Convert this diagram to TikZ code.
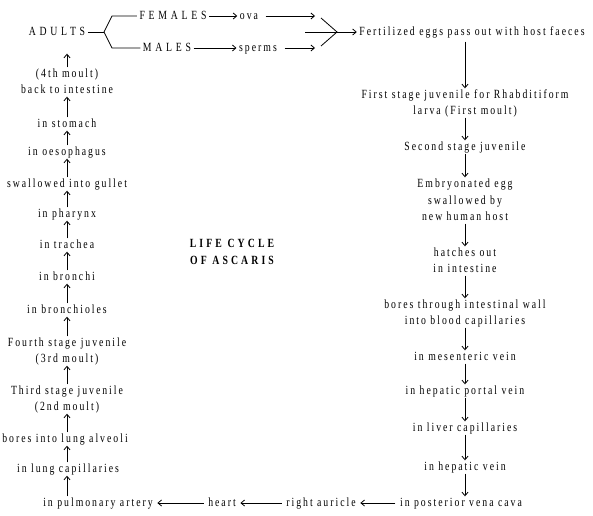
\documentclass[tikz,border=0pt]{standalone}
\usepackage{fontspec}
\setmainfont{Liberation Serif}[FakeStretch=0.78,LetterSpace=16]
\usetikzlibrary{arrows.meta}
\begin{document}
\begin{tikzpicture}[x=1pt,y=-1pt,
  lbl/.style={anchor=base, inner xsep=2.5pt, inner ysep=1pt, text height=8.5pt, text depth=2.5pt, font=\fontsize{12.5}{15}\selectfont},
  caps/.style={lbl, font=\fontsize{12.5}{15}\selectfont\addfontfeature{LetterSpace=30}},
  ttl/.style={lbl, font=\fontsize{12.5}{15}\selectfont\bfseries\addfontfeature{LetterSpace=25}},
  arr/.style={-{Straight Barb[length=3.5pt,width=6pt]}, line width=0.8pt},
  ln/.style={line width=0.8pt}]
\useasboundingbox (0,0) rectangle (593,515);
\coordinate (colL) at (67,0);
\coordinate (colR) at (465,0);
% top row
\node[caps] (adults) at (57,35) {ADULTS};
\node[caps] (females) at (173,19) {FEMALES};
\node[lbl] (ova) at (249,19) {ova};
\node[caps] (males) at (167,51) {MALES};
\node[lbl] (sperms) at (258,51) {sperms};
\node[lbl] (fert) at (472,35) {Fertilized eggs pass out with host faeces};
\coordinate (fork) at (104,32);
\coordinate (fu) at (112,16);
\coordinate (fl) at (112,48);
\coordinate (tu) at (315,16);
\coordinate (tl) at (315,48);
\coordinate (vu) at (321,18);
\coordinate (vm) at (337,32);
\coordinate (vl) at (321,46);
\coordinate (vs) at (305,32);
% left column
\node[lbl] (l1) at (67,77) {(4th moult)};
\node[lbl] (l2) at (67,93) {back to intestine};
\node[lbl] (l3) at (67,127) {in stomach};
\node[lbl] (l4) at (67,155) {in oesophagus};
\node[lbl] (l5) at (67,187) {swallowed into gullet};
\node[lbl] (l6) at (67,217) {in pharynx};
\node[lbl] (l7) at (67,248) {in trachea};
\node[lbl] (l8) at (67,280) {in bronchi};
\node[lbl] (l9) at (67,313) {in bronchioles};
\node[lbl] (l10a) at (67,346) {Fourth stage juvenile};
\node[lbl] (l10b) at (67,362) {(3rd moult)};
\node[lbl] (l11a) at (67,394) {Third stage juvenile};
\node[lbl] (l11b) at (67,410) {(2nd moult)};
\node[lbl] (l12) at (65,442) {bores into lung alveoli};
\node[lbl] (l13) at (68,472) {in lung capillaries};
\node[lbl] (l14) at (98,506) {in pulmonary artery};
% bottom row
\node[lbl] (heart) at (222,506) {heart};
\node[lbl] (ra) at (321,506) {right auricle};
\node[lbl] (pvc) at (461,506) {in posterior vena cava};
% right column
\node[lbl] (r1a) at (465,98) {First stage juvenile for Rhabditiform};
\node[lbl] (r1b) at (465,114) {larva (First moult)};
\node[lbl] (r2) at (465,150) {Second stage juvenile};
\node[lbl] (r3a) at (465,187) {Embryonated egg};
\node[lbl] (r3b) at (465,204) {swallowed by};
\node[lbl] (r3c) at (465,220) {new human host};
\node[lbl] (r4a) at (465,256) {hatches out};
\node[lbl] (r4b) at (465,272) {in intestine};
\node[lbl] (r5a) at (465,308) {bores through intestinal wall};
\node[lbl] (r5b) at (465,324) {into blood capillaries};
\node[lbl] (r6) at (465,360) {in mesenteric vein};
\node[lbl] (r7) at (465,394) {in hepatic portal vein};
\node[lbl] (r8) at (465,431) {in liver capillaries};
\node[lbl] (r9) at (465,470) {in hepatic vein};
% title
\node[ttl] (t1) at (232,247) {LIFE CYCLE};
\node[ttl] (t2) at (232,264) {OF ASCARIS};
% top connectors
\draw[ln] (adults.east) -- (fork);
\draw[ln] (fork) -- (fu) -- (fu -| females.west);
\draw[ln] (fork) -- (fl) -- (fl -| males.west);
\draw[arr] (females.east) -- (ova.west);
\draw[arr] (males.east) -- (sperms.west);
\draw[arr, shorten <=5pt] (ova.east) -- (ova.east -| tu);
\draw[arr, shorten <=5pt] (sperms.east) -- (sperms.east -| tl);
\draw[ln] (vu) -- (vm) -- (vl);
\draw[arr] (vs) -- (vs -| fert.west);
\draw[arr, shorten <=3pt] (fert.south -| colR) -- (r1a.north -| colR);
% right column connectors
\foreach \a/\b in {r1b/r2, r2/r3a, r3c/r4a, r4b/r5a, r5b/r6, r6/r7, r7/r8, r8/r9, r9/pvc}
  \draw[arr] (\a.south -| colR) -- (\b.north -| colR);
% bottom row
\draw[arr, shorten <=2pt, shorten >=2pt] (pvc.west) -- (ra.east);
\draw[arr, shorten <=2pt, shorten >=2pt] (ra.west) -- (heart.east);
\draw[arr, shorten <=2pt, shorten >=2pt] (heart.west) -- (l14.east);
% left column connectors
\foreach \a/\b in {l14/l13, l13/l12, l12/l11b, l11a/l10b, l10a/l9, l9/l8, l8/l7, l7/l6, l6/l5, l5/l4, l4/l3, l3/l2}
  \draw[arr] (\a.north -| colL) -- (\b.south -| colL);
\draw[arr, shorten >=15pt] (l1.north -| colL) -- (adults.south -| colL);
\end{tikzpicture}
\end{document}
